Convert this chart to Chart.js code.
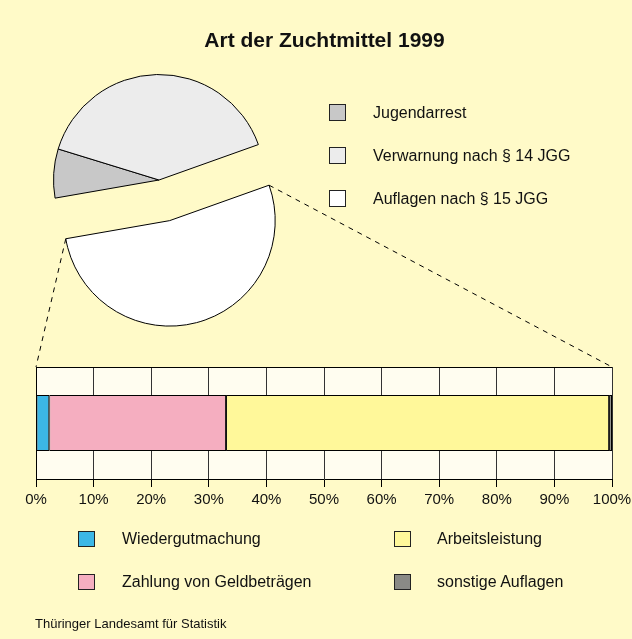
<!DOCTYPE html>
<html lang="de">
<head>
<meta charset="UTF-8">
<title>Art der Zuchtmittel 1999</title>
<script src="https://cdn.jsdelivr.net/npm/chart.js@4.4.1/dist/chart.umd.min.js"></script>
<style>
  html, body { margin: 0; padding: 0; overflow: hidden; }
  body {
    position: relative;
    width: 632px;
    height: 639px;
    background: #fffac8;
    font-family: "Liberation Sans", Arial, sans-serif;
    color: #111;
  }
  canvas { position: absolute; left: 0; top: 0; }
  #pie { z-index: 1; }
  #bar { z-index: 2; }
  #title {
    position: absolute; left: 0; top: 28px; width: 649px;
    text-align: center; font-weight: bold; font-size: 21px; line-height: 24px; z-index: 3;
  }
  #source { position: absolute; left: 35px; top: 616px; font-size: 13px; line-height: 15px; z-index: 3; }
  .item { position: absolute; display: flex; align-items: center; font-size: 16px; line-height: 18px; z-index: 3; white-space: nowrap; }
  .item i { display: block; flex: none; box-sizing: border-box; border: 1px solid #222; }
</style>
</head>
<body>
<canvas id="pie" width="632" height="639"></canvas>
<canvas id="bar" width="680" height="639"></canvas>
<div id="title">Art der Zuchtmittel 1999</div>
<div id="source">Thüringer Landesamt für Statistik</div>
<script>
// Kreis: Art der Zuchtmittel (Anteile in %)
const pieLabels = ['Jugendarrest', 'Verwarnung nach § 14 JGG', 'Auflagen nach § 15 JGG'];
const pieValues = [7.5, 39.8, 52.7];
const pieColors = ['#c8c8c8', '#ececec', '#ffffff'];

// Balken: Aufteilung der Auflagen nach § 15 JGG (in %)
const barCategories = ['Auflagen nach § 15 JGG'];
const barSeries = ['Wiedergutmachung', 'Zahlung von Geldbeträgen', 'Arbeitsleistung', 'sonstige Auflagen'];
const barValues = [2.3, 30.7, 66.5, 0.5];
const barColors = ['#3cb7e6', '#f5aec0', '#fff89a', '#8a8a86'];
const percentTicks = [0, 10, 20, 30, 40, 50, 60, 70, 80, 90, 100];

// Hintergrund der Zeichenfläche und obere Kante
const plotFrame = {
  id: 'plotFrame',
  beforeDraw(chart) {
    const {ctx, chartArea: a} = chart;
    ctx.save();
    ctx.fillStyle = '#fffdf0';
    ctx.fillRect(a.left, a.top, a.right - a.left, a.bottom - a.top);
    ctx.restore();
  },
  afterDraw(chart) {
    const {ctx, chartArea: a} = chart;
    ctx.save();
    ctx.strokeStyle = '#000';
    ctx.lineWidth = 1;
    ctx.beginPath();
    ctx.moveTo(a.left, Math.round(a.top) + 0.5);
    ctx.lineTo(a.right, Math.round(a.top) + 0.5);
    ctx.stroke();
    ctx.restore();
  }
};

const barChart = new Chart(document.getElementById('bar'), {
  type: 'bar',
  data: {
    labels: barCategories,
    datasets: barSeries.map((name, i) => ({
      label: name,
      data: [barValues[i]],
      backgroundColor: barColors[i],
      borderColor: '#000',
      borderWidth: 1,
      borderSkipped: false,
      barPercentage: 0.5,
      categoryPercentage: 1
    }))
  },
  options: {
    indexAxis: 'y',
    responsive: false,
    animation: false,
    events: [],
    layout: { padding: { left: 36, right: 68, top: 367, bottom: 126 } },
    plugins: { legend: { display: false }, tooltip: { enabled: false } },
    scales: {
      x: {
        stacked: true,
        min: percentTicks[0],
        max: percentTicks[percentTicks.length - 1],
        afterBuildTicks: axis => { axis.ticks = percentTicks.map(v => ({ value: v })); },
        ticks: {
          callback: v => v + '%',
          color: '#111',
          padding: 4,
          maxRotation: 0,
          font: { family: '"Liberation Sans", Arial, sans-serif', size: 15 }
        },
        grid: { color: '#333', tickColor: '#000', tickLength: 8 },
        border: { color: '#000', width: 1 }
      },
      y: {
        stacked: true,
        ticks: { display: false },
        grid: { display: false, drawTicks: false },
        border: { color: '#000', width: 1 }
      }
    }
  },
  plugins: [plotFrame]
});

// herausgerücktes Segment mit gestrichelter Verbindung zum Balken
const explode = {
  id: 'explode',
  afterDatasetsUpdate(chart) {
    const arc = chart.getDatasetMeta(0).data[2];
    const mid = (arc.startAngle + arc.endAngle) / 2;
    arc.x += Math.cos(mid) * 42;
    arc.y += Math.sin(mid) * 42;
  },
  afterDatasetsDraw(chart) {
    const arc = chart.getDatasetMeta(0).data[2];
    const area = barChart.chartArea;
    const r = arc.outerRadius;
    const ctx = chart.ctx;
    ctx.save();
    ctx.strokeStyle = '#000';
    ctx.lineWidth = 1;
    ctx.setLineDash([5, 5]);
    ctx.beginPath();
    ctx.moveTo(arc.x + Math.cos(arc.endAngle) * r, arc.y + Math.sin(arc.endAngle) * r);
    ctx.lineTo(area.left, area.top);
    ctx.moveTo(arc.x + Math.cos(arc.startAngle) * r, arc.y + Math.sin(arc.startAngle) * r);
    ctx.lineTo(area.right, area.top);
    ctx.stroke();
    ctx.restore();
  }
};

new Chart(document.getElementById('pie'), {
  type: 'pie',
  data: {
    labels: pieLabels,
    datasets: [{
      data: pieValues,
      backgroundColor: pieColors,
      borderColor: '#000',
      borderWidth: 1
    }]
  },
  options: {
    responsive: false,
    animation: false,
    events: [],
    rotation: 260.1,
    radius: 105.5,
    layout: { padding: { left: 0, top: 0, right: 314, bottom: 279 } },
    plugins: { legend: { display: false }, tooltip: { enabled: false } }
  },
  plugins: [explode]
});

// Legenden
function addLegend(labels, colors, spots) {
  labels.forEach((text, i) => {
    const s = spots[i];
    const item = document.createElement('div');
    item.className = 'item';
    item.style.left = s.x + 'px';
    item.style.top = s.y + 'px';
    item.style.height = s.h + 'px';
    const box = document.createElement('i');
    box.style.width = s.w + 'px';
    box.style.height = s.h + 'px';
    box.style.background = colors[i];
    box.style.marginRight = s.gap + 'px';
    const span = document.createElement('span');
    span.textContent = text;
    item.appendChild(box);
    item.appendChild(span);
    document.body.appendChild(item);
  });
}

addLegend(pieLabels, pieColors, [
  { x: 329, y: 104, w: 17, h: 17, gap: 27 },
  { x: 329, y: 147, w: 17, h: 17, gap: 27 },
  { x: 329, y: 190, w: 17, h: 17, gap: 27 }
]);
addLegend(barSeries, barColors, [
  { x: 78, y: 531, w: 17, h: 16, gap: 27 },
  { x: 78, y: 574, w: 17, h: 16, gap: 27 },
  { x: 394, y: 531, w: 17, h: 16, gap: 26 },
  { x: 394, y: 574, w: 17, h: 16, gap: 26 }
]);
</script>
</body>
</html>
